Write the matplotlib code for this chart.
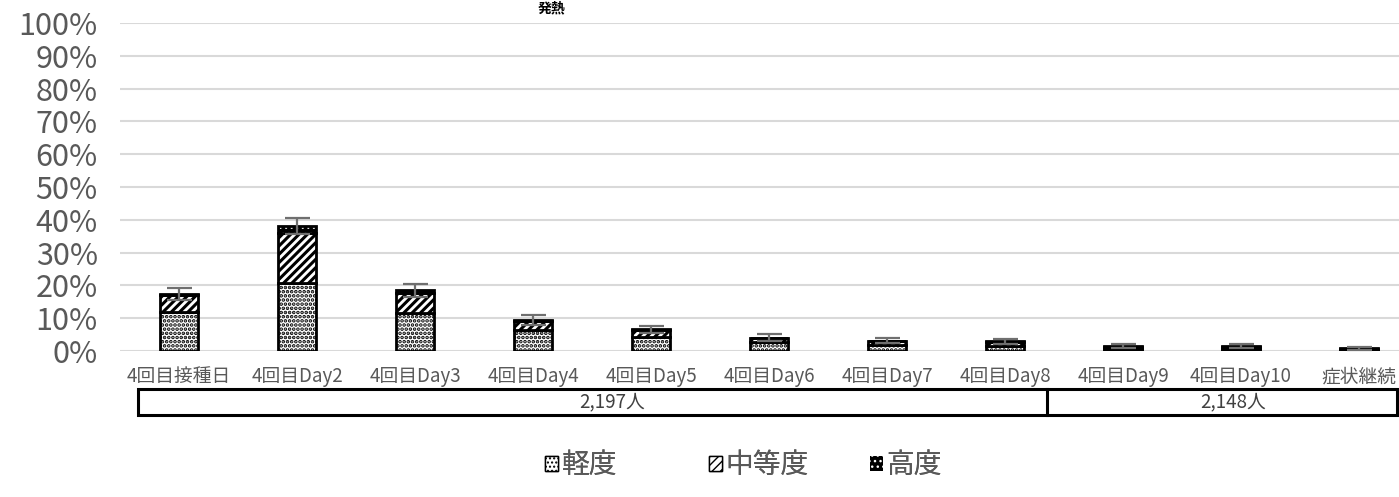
import matplotlib
matplotlib.use("Agg")
import matplotlib.pyplot as plt
from matplotlib.patches import Patch, Rectangle
from matplotlib.lines import Line2D
import numpy as np

plt.rcParams['font.family'] = ['Noto Sans CJK JP', 'DejaVu Sans']

categories = ['4回目接種日', '4回目Day2', '4回目Day3', '4回目Day4', '4回目Day5',
              '4回目Day6', '4回目Day7', '4回目Day8', '4回目Day9', '4回目Day10', '症状継続']
light = [11.9, 20.8, 11.7, 6.4, 4.4, 2.6, 1.8, 1.6, 0.5, 0.5, 0.2]
moderate = [5.1, 15.1, 6.1, 2.7, 1.9, 1.3, 1.2, 1.1, 0.8, 0.8, 0.4]
severe = [0.3, 2.3, 0.7, 0.3, 0.3, 0.2, 0.2, 0.2, 0.3, 0.3, 0.2]
errors = [1.9, 2.4, 1.9, 1.5, 1.1, 1.0, 0.9, 0.9, 0.6, 0.6, 0.4]
legend_labels = ['軽度', '中等度', '高度']
group_labels = ['2,197人', '2,148人']
title = '発熱'
yticks = list(range(0, 101, 10))

W, H = 1399, 497
fig = plt.figure(figsize=(W / 100, H / 100), dpi=100)
ax = fig.add_axes([120 / W, (H - 351) / H, 1298 / W, 328 / H])

x = np.arange(len(categories))
bw = 0.32
light = np.array(light)
moderate = np.array(moderate)
severe = np.array(severe)

with plt.rc_context({'hatch.linewidth': 1.8}):
    ax.bar(x, light, bw, facecolor='white', edgecolor='black', hatch='....', linewidth=2, zorder=3)
    h_light = Patch(facecolor='white', edgecolor='black', hatch='....', linewidth=1)
with plt.rc_context({'hatch.linewidth': 2.2}):
    ax.bar(x, moderate, bw, bottom=light, facecolor='white', edgecolor='black', hatch='////', linewidth=2, zorder=3)
    h_mod = Patch(facecolor='white', edgecolor='black', hatch='////', linewidth=1)
with plt.rc_context({'hatch.linewidth': 0.8}):
    ax.bar(x, severe, bw, bottom=light + moderate, facecolor='black', edgecolor='white', hatch='...', linewidth=0, zorder=3)
    h_sev = Patch(facecolor='black', edgecolor='white', hatch='...', linewidth=0)
ax.bar(x, severe, bw, bottom=light + moderate, fill=False, edgecolor='black', linewidth=2, zorder=3)
total = light + moderate + severe
ax.errorbar(x, total, yerr=errors, fmt='none', ecolor='#6f6f6f', elinewidth=1.6, capsize=9, capthick=1.6, zorder=4)

ax.set_xlim(-0.5, len(categories) - 0.5)
ax.set_ylim(0, 100)
ax.set_yticks(yticks)
ax.set_yticklabels([f'{v}%' for v in yticks], fontsize=22, color='#595959')
ax.set_xticks(x)
ax.set_xticklabels(categories, fontsize=13.5, color='#595959')
ax.tick_params(axis='both', length=0)
ax.tick_params(axis='y', pad=16)
ax.tick_params(axis='x', pad=11)
for s in ax.spines.values():
    s.set_visible(False)
ax.grid(axis='y', color='#d9d9d9', linewidth=1.5, zorder=0)
ax.set_axisbelow(True)

# group box
bx0, bx1, by0, by1, bdiv = 138, 1397, 415, 389, 1047
fig.add_artist(Rectangle((bx0 / W, (H - by0) / H), (bx1 - bx0) / W, (by0 - by1) / H,
                         transform=fig.transFigure, fill=False, edgecolor='black', linewidth=2.2))
fig.add_artist(Line2D([bdiv / W, bdiv / W], [(H - by0) / H, (H - by1) / H],
                      transform=fig.transFigure, color='black', linewidth=2.2))
fig.text(612 / W, (H - 402) / H, group_labels[0], ha='center', va='center', fontsize=13.5, color='#404040')
fig.text(1233 / W, (H - 402) / H, group_labels[1], ha='center', va='center', fontsize=13.5, color='#404040')

# legend: one entry each, at Excel-like even slots
leg_x = [545, 709, 870]
for handle, label, lx in zip([h_light, h_mod, h_sev], legend_labels, leg_x):
    lg = fig.legend([handle], [label], loc='center left', bbox_to_anchor=(lx / W, (H - 465) / H),
                    frameon=False, fontsize=20, handlelength=0.45, handleheight=0.45,
                    handletextpad=0.15, borderpad=0, borderaxespad=0, labelcolor='#595959')
    fig.add_artist(lg)

fig.text(552 / W, 1 - 1 / H, title, ha='center', va='top', fontsize=10, color='black', fontweight='bold')

fig.savefig('out.png', dpi=100)
